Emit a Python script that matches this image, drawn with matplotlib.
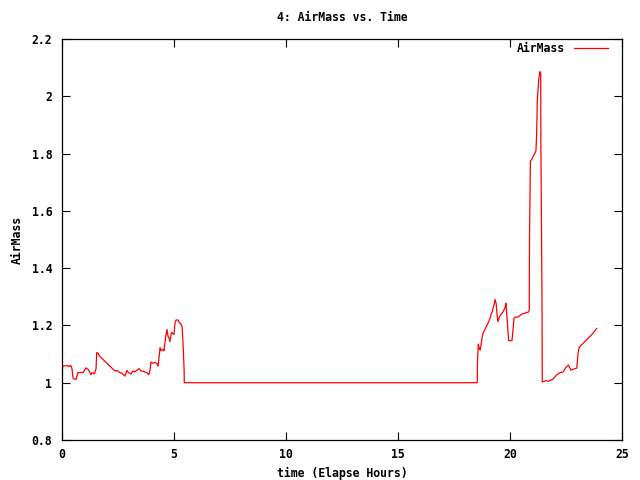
import matplotlib
matplotlib.use("Agg")
import matplotlib.pyplot as plt
from matplotlib.ticker import MultipleLocator, FuncFormatter

# Elapsed time (hours) and air mass
time_h = [0.0, 0.045, 0.27, 0.31, 0.40, 0.45, 0.49, 0.54, 0.63, 0.67, 0.71, 0.85, 0.94, 0.98,
          1.07, 1.16, 1.25, 1.29, 1.34, 1.43, 1.47, 1.52, 1.55, 1.61, 1.65, 1.70, 2.32, 2.37,
          2.46, 2.54, 2.68, 2.81, 2.90, 2.95, 2.99, 3.08, 3.17, 3.26, 3.35, 3.44, 3.53, 3.62,
          3.71, 3.79, 3.88, 3.93, 3.97, 4.06, 4.15, 4.24, 4.29, 4.33, 4.38, 4.42, 4.51, 4.55,
          4.60, 4.64, 4.69, 4.73, 4.78, 4.82, 4.87, 4.91, 4.96, 5.00, 5.04, 5.09, 5.18, 5.22,
          5.31, 5.36, 5.40, 5.45, 5.46,
          18.54, 18.545, 18.585, 18.63, 18.67, 18.72, 18.76, 18.81, 18.85, 18.90, 18.94, 18.99,
          19.03, 19.08, 19.12, 19.17, 19.21, 19.25, 19.30, 19.33, 19.38, 19.42, 19.46, 19.51,
          19.55, 19.60, 19.64, 19.69, 19.73, 19.78, 19.82, 19.85, 19.88, 19.91, 19.94, 20.09,
          20.12, 20.18, 20.22, 20.37, 20.54, 20.71, 20.83, 20.86, 20.87, 20.91, 20.97, 21.07,
          21.16, 21.19, 21.22, 21.28, 21.31, 21.34, 21.37, 21.38, 21.43, 21.44, 21.61, 21.71,
          21.91, 22.08, 22.23, 22.38, 22.46, 22.60, 22.72, 22.86, 22.98, 23.04, 23.09, 23.27,
          23.45, 23.65, 23.87]
airmass = [1.042, 1.059, 1.059, 1.057, 1.060, 1.047, 1.016, 1.013, 1.012, 1.023, 1.035, 1.036,
           1.035, 1.040, 1.052, 1.047, 1.035, 1.028, 1.035, 1.031, 1.035, 1.050, 1.105, 1.103,
           1.096, 1.091, 1.044, 1.041, 1.043, 1.037, 1.033, 1.023, 1.043, 1.037, 1.035, 1.030,
           1.041, 1.038, 1.044, 1.049, 1.041, 1.040, 1.037, 1.035, 1.028, 1.044, 1.072, 1.068,
           1.071, 1.066, 1.058, 1.085, 1.122, 1.112, 1.117, 1.111, 1.142, 1.167, 1.186, 1.163,
           1.155, 1.143, 1.171, 1.176, 1.169, 1.169, 1.205, 1.219, 1.219, 1.212, 1.205, 1.196,
           1.143, 1.050, 1.000,
           1.000, 1.065, 1.135, 1.120, 1.114, 1.138, 1.161, 1.175, 1.182, 1.189, 1.196, 1.203,
           1.210, 1.219, 1.228, 1.242, 1.248, 1.263, 1.275, 1.291, 1.277, 1.240, 1.213, 1.225,
           1.233, 1.240, 1.242, 1.248, 1.254, 1.263, 1.277, 1.242, 1.216, 1.178, 1.147, 1.147,
           1.172, 1.225, 1.228, 1.230, 1.240, 1.244, 1.247, 1.254, 1.504, 1.772, 1.780, 1.795,
           1.810, 1.873, 1.987, 2.057, 2.074, 2.086, 2.082, 1.818, 1.271, 1.003, 1.007, 1.005,
           1.012, 1.027, 1.035, 1.038, 1.050, 1.062, 1.044, 1.048, 1.051, 1.103, 1.124, 1.138,
           1.152, 1.168, 1.189]

title = "4: AirMass vs. Time"
xlabel = "time (Elapse Hours)"
ylabel = "AirMass"
series_name = "AirMass"

plt.rcParams['font.family'] = ['DejaVu Sans Mono']
plt.rcParams['font.weight'] = 'bold'
fs = 8.3

fig = plt.figure(figsize=(6.4, 4.8), dpi=100)
ax = fig.add_axes([62/640, 40/480, 560/640, 401/480])

ax.plot(time_h, airmass, color='#ff0000', lw=0.9, label=series_name)

ax.set_xlim(0, 25)
ax.set_ylim(0.8, 2.2)
ax.xaxis.set_major_locator(MultipleLocator(5))
ax.yaxis.set_major_locator(MultipleLocator(0.2))
ax.yaxis.set_major_formatter(FuncFormatter(lambda v, p: f"{v:g}"))

ax.tick_params(direction='in', length=6, width=0.8, top=True, right=True,
               labelsize=fs)
ax.tick_params(axis='x', pad=6)
ax.tick_params(axis='y', pad=7)
for s in ax.spines.values():
    s.set_linewidth(0.9)

ax.set_title(title, fontsize=fs, fontweight='bold', pad=13)
ax.set_xlabel(xlabel, fontsize=fs, fontweight='bold', labelpad=4)
ax.set_ylabel(ylabel, fontsize=fs, fontweight='bold', labelpad=6)

leg = ax.legend(loc='upper right', bbox_to_anchor=(0.9786, 0.998), frameon=False,
                markerfirst=False, fontsize=fs, handlelength=2.95, handletextpad=0.78,
                borderaxespad=0.0, borderpad=0.2)

fig.savefig("out.png", dpi=100)
